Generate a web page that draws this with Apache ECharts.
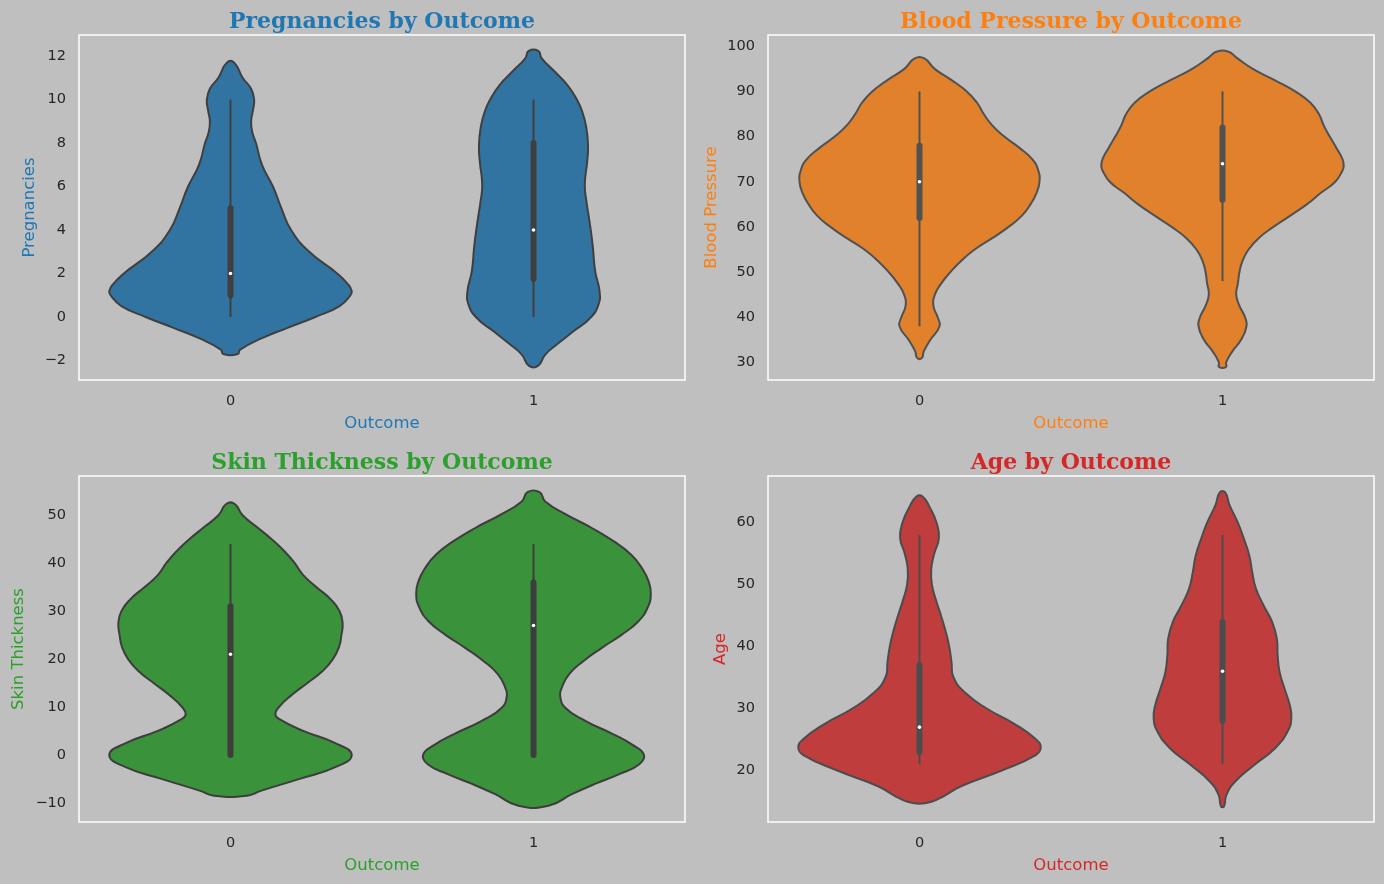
<!DOCTYPE html>
<html>
<head>
<meta charset="utf-8">
<script src="https://cdn.jsdelivr.net/npm/echarts@6/dist/echarts.min.js"></script>
<style>
html, body { margin: 0; padding: 0; background: #bfbfbf; }
#main { width: 1384px; height: 884px; }
</style>
</head>
<body>
<div id="main"></div>
<script>
// x categories
const outcomes = ["0", "1"];

// violin outlines: y values and half-width (1 = full 0.4 category half-width)
const pregY0 = [-1.7, -1.5, -1, -0.5, 0, 0.5, 1, 1.2, 1.5, 2, 3, 4, 5, 6, 7, 8, 8.5, 9, 9.5, 10, 10.5, 11, 11.7];
const pregW0 = [0.06, 0.08, 0.25, 0.47, 0.70, 0.90, 0.99, 1.0, 0.97, 0.88, 0.65, 0.50, 0.42, 0.35, 0.26, 0.21, 0.18, 0.17, 0.185, 0.195, 0.17, 0.10, 0.03];
const pregY1 = [-2.25, -1.73, -1.27, -0.66, -0.05, 0.57, 1.18, 2.1, 3.3, 4.4, 5.3, 6.08, 7.15, 7.9, 8.7, 9.45, 10.07, 10.7, 11.3, 11.9, 12.24];
const pregW1 = [0.037, 0.097, 0.192, 0.33, 0.468, 0.536, 0.545, 0.509, 0.488, 0.462, 0.437, 0.423, 0.443, 0.45, 0.436, 0.402, 0.351, 0.275, 0.172, 0.068, 0.039];

const bpY0 = [31, 32.5, 35, 38, 40, 42.5, 45, 47.5, 50, 52.5, 55, 57.5, 60, 62.5, 65, 67.5, 70, 72.5, 75, 77.5, 80, 82.5, 85, 87.5, 90, 92.5, 95, 97.3];
const bpW0 = [0.02, 0.036, 0.09, 0.165, 0.15, 0.115, 0.127, 0.18, 0.255, 0.345, 0.455, 0.60, 0.735, 0.845, 0.915, 0.965, 0.99, 0.98, 0.93, 0.825, 0.70, 0.60, 0.53, 0.475, 0.39, 0.265, 0.125, 0.04];
const bpY1 = [29, 30, 32.5, 35, 38, 40, 42.5, 45, 47.5, 50, 52.5, 55, 57.5, 60, 62.5, 65, 67.5, 70, 72.5, 73.5, 75, 77.5, 80, 82.5, 85, 87.5, 90, 92.5, 95, 97.5, 98.8];
const bpW1 = [0.03, 0.03, 0.083, 0.153, 0.198, 0.186, 0.14, 0.113, 0.127, 0.14, 0.165, 0.215, 0.298, 0.42, 0.56, 0.695, 0.81, 0.93, 0.99, 1.0, 0.99, 0.94, 0.885, 0.835, 0.795, 0.725, 0.60, 0.43, 0.25, 0.115, 0.05];

const skinY0 = [-8.5, -7.5, -5, -2.5, 0, 2.5, 5, 7.5, 8.5, 10, 12.5, 15, 17.5, 20, 22.5, 25, 27.5, 30, 32.5, 35, 37.5, 40, 42.5, 45, 47.5, 50, 52.4];
const skinW0 = [0.135, 0.25, 0.57, 0.87, 1.0, 0.86, 0.60, 0.40, 0.37, 0.40, 0.505, 0.635, 0.76, 0.845, 0.895, 0.915, 0.925, 0.90, 0.825, 0.71, 0.60, 0.53, 0.445, 0.34, 0.22, 0.10, 0.033];
const skinY1 = [-10.6, -8.2, -6.1, -4.0, -1.95, 0.1, 2.2, 4.3, 7.1, 9.85, 12.3, 14.0, 16.8, 19.6, 22.35, 25.1, 27.9, 30.7, 33.5, 36.25, 39.0, 41.8, 44.6, 47.35, 50.1, 52.9, 54.85];
const skinW1 = [0.124, 0.316, 0.502, 0.708, 0.873, 0.91, 0.811, 0.66, 0.427, 0.262, 0.22, 0.233, 0.293, 0.413, 0.564, 0.729, 0.866, 0.941, 0.968, 0.949, 0.894, 0.804, 0.66, 0.481, 0.275, 0.097, 0.05];

const ageY0 = [14.8, 15.5, 17.5, 20, 22.5, 23.7, 25, 27.5, 30, 32.5, 35, 37.5, 40, 42.5, 45, 47.5, 50, 52.5, 55, 57.5, 60, 62.5, 64.2];
const ageW0 = [0.064, 0.165, 0.347, 0.678, 0.959, 1.0, 0.963, 0.785, 0.554, 0.38, 0.281, 0.264, 0.245, 0.215, 0.177, 0.136, 0.102, 0.097, 0.122, 0.16, 0.14, 0.083, 0.025];
const ageY1 = [14.2, 16.1, 18.2, 20.9, 23.6, 26.3, 28.4, 30.6, 33.3, 35.9, 38.6, 41.3, 44.0, 46.7, 49.4, 52.0, 54.7, 57.4, 60.1, 62.8, 64.85];
const ageW1 = [0.012, 0.033, 0.103, 0.262, 0.434, 0.537, 0.568, 0.554, 0.51, 0.471, 0.455, 0.448, 0.409, 0.337, 0.275, 0.245, 0.221, 0.176, 0.124, 0.058, 0.022];

// inner box: [whisker low, q1, median, q3, whisker high] per outcome
const pregBox = [[0, 1, 2, 5, 10], [0, 1.75, 4, 8, 10]];
const bpBox = [[38, 62, 70, 78, 90], [48, 66, 74, 82, 90]];
const skinBox = [[0, 0, 21, 31, 44], [0, 0, 27, 36, 44]];
const ageBox = [[21, 23, 27, 37, 58], [21, 28, 36, 44, 58]];

const panels = [
  { title: "Pregnancies by Outcome", name: "Pregnancies", color: "#1f77b4", fill: "#3274a1", edge: "#3f3f3f",
    min: -2.9, max: 12.97, split: 8, ys: [pregY0, pregY1], ws: [pregW0, pregW1], box: pregBox,
    left: 79, top: 35, height: 345, nameGap: 41 },
  { title: "Blood Pressure by Outcome", name: "Blood Pressure", color: "#ff7f0e", fill: "#e1812c", edge: "#515151",
    min: 26.1, max: 102.5, split: 8, ys: [bpY0, bpY1], ws: [bpW0, bpW1], box: bpBox,
    left: 768, top: 35, height: 345, nameGap: 48 },
  { title: "Skin Thickness by Outcome", name: "Skin Thickness", color: "#2ca02c", fill: "#3a923a", edge: "#3d3d3d",
    min: -14.0, max: 58.2, split: 7, ys: [skinY0, skinY1], ws: [skinW0, skinW1], box: skinBox,
    left: 79, top: 476, height: 346, nameGap: 52 },
  { title: "Age by Outcome", name: "Age", color: "#d62728", fill: "#c03d3e", edge: "#4c4c4c",
    min: 11.7, max: 67.5, split: 6, ys: [ageY0, ageY1], ws: [ageW0, ageW1], box: ageBox,
    left: 768, top: 476, height: 346, nameGap: 39 }
];

const PANEL_W = 606;

function violinRenderer(p) {
  return function (params, api) {
    const i = params.dataIndex;
    const ys = p.ys[i], ws = p.ws[i];
    const cx = api.coord([i, p.min])[0];
    const half = api.size([1, 0])[0] * 0.4;
    const y = function (v) { return api.coord([i, v])[1]; };
    const right = [], left = [];
    for (let k = 0; k < ys.length; k++) {
      right.push([cx + ws[k] * half, y(ys[k])]);
      left.unshift([cx - ws[k] * half, y(ys[k])]);
    }
    const b = p.box[i];
    return {
      type: "group",
      children: [
        { type: "polygon", shape: { points: right.concat(left), smooth: 0.5 },
          style: { fill: p.fill, stroke: p.edge, lineWidth: 2 } },
        { type: "line", shape: { x1: cx, y1: y(b[0]), x2: cx, y2: y(b[4]) },
          style: { stroke: p.edge, lineWidth: 2 } },
        { type: "line", shape: { x1: cx, y1: y(b[1]), x2: cx, y2: y(b[3]) },
          style: { stroke: p.edge, lineWidth: 6, lineCap: "round" } },
        { type: "circle", shape: { cx: cx, cy: y(b[2]), r: 1.8 }, style: { fill: "#ffffff" } }
      ]
    };
  };
}

const chart = echarts.init(document.getElementById("main"), null, { renderer: "canvas" });
const tickFont = { color: "#262626", fontSize: 14.5, fontFamily: "DejaVu Sans" };

chart.setOption({
  backgroundColor: "#bfbfbf",
  animation: false,
  title: panels.map(function (p) {
    return {
      text: p.title,
      left: p.left + PANEL_W / 2,
      top: p.top - 24,
      padding: 0,
      textAlign: "center",
      textStyle: { color: p.color, fontFamily: "DejaVu Serif", fontWeight: "bold", fontSize: 22 }
    };
  }),
  grid: panels.map(function (p) {
    return {
      left: p.left, top: p.top, width: PANEL_W, height: p.height,
      show: true, borderColor: "#ffffff", borderWidth: 1.5, backgroundColor: "transparent",
      containLabel: false, outerBoundsMode: "none"
    };
  }),
  xAxis: panels.map(function (p, idx) {
    return {
      type: "category", gridIndex: idx, data: outcomes,
      name: "Outcome", nameLocation: "middle", nameGap: 35, nameMoveOverlap: false,
      nameTextStyle: { color: p.color, fontSize: 16.5, fontFamily: "DejaVu Sans" },
      axisLine: { show: false }, axisTick: { show: false }, splitLine: { show: false },
      axisLabel: Object.assign({ margin: 14 }, tickFont)
    };
  }),
  yAxis: panels.map(function (p, idx) {
    return {
      type: "value", gridIndex: idx, min: p.min, max: p.max, splitNumber: p.split,
      name: p.name, nameLocation: "middle", nameGap: p.nameGap, nameMoveOverlap: false,
      nameTextStyle: { color: p.color, fontSize: 16.5, fontFamily: "DejaVu Sans" },
      axisLine: { show: false }, axisTick: { show: false }, splitLine: { show: false },
      axisLabel: Object.assign({
        margin: 13, showMinLabel: false, showMaxLabel: false,
        formatter: function (v) { return String(v).replace("-", "\u2212"); }
      }, tickFont)
    };
  }),
  series: panels.map(function (p, idx) {
    return {
      type: "custom", xAxisIndex: idx, yAxisIndex: idx,
      renderItem: violinRenderer(p),
      data: [[0, p.min], [1, p.min]],
      encode: { x: 0, y: 1 },
      silent: true
    };
  })
});
</script>
</body>
</html>
